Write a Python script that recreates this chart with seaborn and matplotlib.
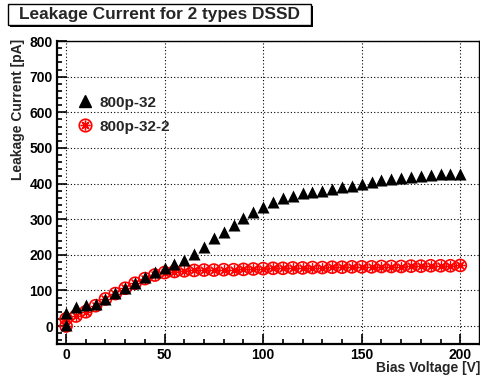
import numpy as np
import pandas as pd
import matplotlib
matplotlib.use("Agg")
import matplotlib.pyplot as plt
import seaborn as sns
from matplotlib.lines import Line2D
from matplotlib.patches import Rectangle
from matplotlib.legend_handler import HandlerTuple
from matplotlib.ticker import MultipleLocator

voltage = [0, 0] + list(range(5, 205, 5))
current_a = [36, 3, 52, 59, 62, 76, 92, 108, 122, 137, 151, 164, 174, 185, 202, 223,
             246, 265, 284, 302, 319, 334, 347, 359, 366, 373, 376, 380, 385, 390,
             393, 400, 405, 409, 412, 415, 419, 421, 424, 426, 427, 428]
current_b = [20, 0, 28, 40, 57, 76, 91, 106, 120, 133, 143, 150, 153, 155, 156, 157,
             157, 158, 158, 159, 160, 161, 162, 162, 163, 163, 164, 164, 165, 165,
             166, 166, 166, 167, 167, 167, 168, 168, 169, 169, 169, 170]
series_names = ["800p-32", "800p-32-2"]
title = "Leakage Current for 2 types DSSD"
xlabel = "Bias Voltage [V]"
ylabel = "Leakage Current [pA]"

df_a = pd.DataFrame({"V": voltage, "I": current_a})
df_b = pd.DataFrame({"V": voltage, "I": current_b})

sns.set_style("white")
plt.rcParams["font.family"] = ["Liberation Sans", "DejaVu Sans"]
plt.rcParams["font.weight"] = "bold"

W, H = 481, 380
fig = plt.figure(figsize=(W / 100, H / 100), dpi=100)
L, R, T, B = 57, 479, 41, 344
ax = fig.add_axes([L / W, 1 - B / H, (R - L) / W, (B - T) / H])

red = "#ff0000"
sns.scatterplot(data=df_b, x="V", y="I", ax=ax, marker="o", s=75,
                facecolors="none", edgecolor=red, linewidth=1.2, zorder=3)
sns.scatterplot(data=df_b, x="V", y="I", ax=ax, marker=(8, 2, 0), s=50,
                color=red, edgecolor=red, linewidth=0.9, zorder=4)
sns.scatterplot(data=df_b, x="V", y="I", ax=ax, marker="o", s=6,
                color=red, edgecolor=red, linewidth=0, zorder=4)
sns.scatterplot(data=df_a, x="V", y="I", ax=ax, marker="^", s=75,
                color="black", edgecolor="black", linewidth=0, zorder=5)

ax.set_xlim(-4.6, 209.5)
ax.set_ylim(-50.5, 800)
ax.set_xlabel("")
ax.set_ylabel("")

ax.xaxis.set_major_locator(MultipleLocator(50))
ax.xaxis.set_minor_locator(MultipleLocator(10))
ax.yaxis.set_major_locator(MultipleLocator(100))
ax.yaxis.set_minor_locator(MultipleLocator(20))
ax.tick_params(which="both", direction="in", left=True, bottom=True,
               top=False, right=False, colors="black", width=1.2)
ax.tick_params(which="major", length=7, labelsize=10, pad=3)
ax.tick_params(which="minor", length=3.5)
for lab in ax.get_xticklabels() + ax.get_yticklabels():
    lab.set_fontweight("bold")

ax.grid(True, which="major", linestyle=(0, (1, 2)), color="black", linewidth=0.8)
for side in ["left", "bottom"]:
    ax.spines[side].set_linewidth(1.6)
for side in ["top", "right"]:
    ax.spines[side].set_linewidth(1.0)
for sp in ax.spines.values():
    sp.set_color("black")

h_a = Line2D([], [], marker="^", color="black", linestyle="", markersize=9)
h_b1 = Line2D([], [], marker="o", color=red, markerfacecolor="none", linestyle="",
              markersize=9, markeredgewidth=1.2)
h_b2 = Line2D([], [], marker=(8, 2, 0), color=red, linestyle="", markersize=7)
leg = ax.legend([h_a, (h_b1, h_b2)], series_names,
                handler_map={tuple: HandlerTuple(ndivide=1, pad=0)},
                loc="upper left", bbox_to_anchor=(0.015, 0.865), frameon=False,
                prop={"weight": "bold", "size": 11}, handlelength=1.0,
                handletextpad=0.5, labelspacing=0.65)

fig.text(480 / W, 1 - 368 / H, xlabel, ha="right", va="center",
         fontsize=10, fontweight="bold")
fig.text(18 / W, 1 - 39 / H, ylabel, ha="center", va="top", rotation=90,
         fontsize=10, fontweight="bold")

# title box with shadow
bx0, by0, bx1, by1 = 8, 4, 311, 25
fig.patches.append(Rectangle(((bx0 + 2) / W, 1 - (by1 + 2) / H), (bx1 - bx0) / W,
                             (by1 - by0) / H, transform=fig.transFigure,
                             facecolor="black", edgecolor="none", zorder=1))
fig.patches.append(Rectangle((bx0 / W, 1 - by1 / H), (bx1 - bx0) / W,
                             (by1 - by0) / H, transform=fig.transFigure,
                             facecolor="white", edgecolor="black", linewidth=1.0, zorder=2))
fig.text((bx0 + bx1) / 2 / W, 1 - 14.5 / H, title, ha="center", va="center",
         fontsize=12.4, fontweight="bold", zorder=3)

fig.savefig("out.png", dpi=100)
